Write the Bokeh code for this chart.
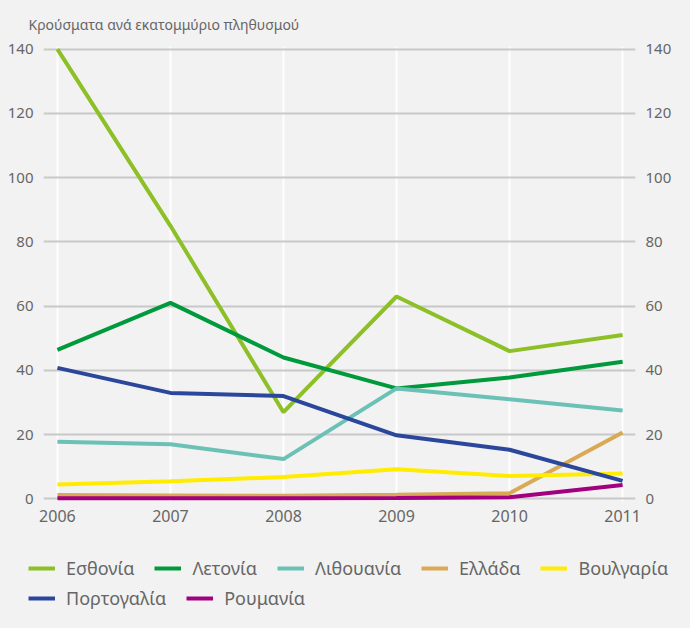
from bokeh.plotting import figure
from bokeh.layouts import column
from bokeh.models import Legend, LegendItem, Range1d, LinearAxis, FixedTicker, GlobalInlineStyleSheet
from bokeh.embed import file_html
from bokeh.resources import INLINE

years = [2006, 2007, 2008, 2009, 2010, 2011]
estonia = [140, 85, 27, 63, 46, 51]
latvia = [46.4, 61, 44, 34.4, 37.8, 42.7]
lithuania = [17.8, 17.0, 12.4, 34.4, 31.0, 27.5]
greece = [1.2, 1.1, 1.0, 1.3, 1.8, 20.7]
bulgaria = [4.5, 5.5, 6.8, 9.2, 7.1, 7.9]
portugal = [40.8, 33.0, 32.0, 19.8, 15.3, 5.6]
romania = [0.2, 0.2, 0.2, 0.3, 0.5, 4.3]

names = ["Εσθονία", "Λετονία", "Λιθουανία", "Ελλάδα", "Βουλγαρία", "Πορτογαλία", "Ρουμανία"]
series = [estonia, latvia, lithuania, greece, bulgaria, portugal, romania]
colors = ["#8cc026", "#009a3d", "#6cc1b6", "#daa955", "#ffec00", "#2b479b", "#a2007e"]
y_ticks = [0, 20, 40, 60, 80, 100, 120, 140]
title_text = "Κρούσματα ανά εκατομμύριο πληθυσμού"

FONT = "Noto Sans"
TXT = "#666666"
BG = "#f2f2f2"

p = figure(width=674, height=540, output_backend="svg", toolbar_location=None,
           x_range=Range1d(2005.877, 2011.114), y_range=Range1d(-0.8, 140.8),
           min_border_left=43, min_border_right=33, min_border_top=43, min_border_bottom=39,
           title=title_text)
p.background_fill_color = BG
p.border_fill_color = BG
p.outline_line_color = None

p.title.text_font = FONT
p.title.text_font_size = "14px"
p.title.text_font_style = "normal"
p.title.text_color = TXT
p.title.align = "left"
p.title.offset = -15
p.title.standoff = 25

p.xaxis.ticker = FixedTicker(ticks=years)
p.yaxis.ticker = FixedTicker(ticks=y_ticks)
right = LinearAxis(ticker=FixedTicker(ticks=y_ticks))
p.add_layout(right, "right")

for ax in p.xaxis + p.yaxis:
    ax.axis_line_color = None
    ax.major_tick_line_color = None
    ax.minor_tick_line_color = None
    ax.major_label_text_font = FONT
    ax.major_label_text_color = TXT
for ax in p.yaxis:
    ax.major_label_text_font_size = "15px"
    ax.major_label_standoff = 4
for ax in p.xaxis:
    ax.major_label_text_font_size = "16px"
    ax.major_label_standoff = 2

p.xgrid.ticker = FixedTicker(ticks=years)
p.xgrid.grid_line_color = "white"
p.xgrid.grid_line_width = 2
p.ygrid.ticker = FixedTicker(ticks=y_ticks)
p.ygrid.grid_line_color = "#c8c8c8"
p.ygrid.grid_line_width = 2

for name, vals, col in zip(names, series, colors):
    p.line(years, vals, line_color=col, line_width=4)

# legend-only figure below the chart (its ranges keep the series out of view)
lf = figure(width=674, height=72, output_backend="svg", toolbar_location=None,
            x_range=Range1d(0, 1), y_range=Range1d(0, 1),
            x_axis_type=None, y_axis_type=None,
            min_border_left=0, min_border_right=0, min_border_top=0, min_border_bottom=0)
lf.frame_align = False
lf.background_fill_color = BG
lf.border_fill_color = BG
lf.outline_line_color = None
lf.xgrid.visible = False
lf.ygrid.visible = False

legend_renderers = [lf.line(years, vals, line_color=col, line_width=4)
                    for vals, col in zip(series, colors)]

def mk_legend(idx, loc):
    lg = Legend(items=[LegendItem(label=names[i], renderers=[legend_renderers[i]]) for i in idx],
                orientation="horizontal", location=loc)
    lg.background_fill_alpha = 0
    lg.border_line_alpha = 0
    lg.padding = 0
    lg.margin = 0
    lg.spacing = 20
    lg.glyph_width = 27
    lg.glyph_height = 22
    lg.label_height = 22
    lg.label_standoff = 11
    lg.label_text_font = FONT
    lg.label_text_font_size = "18px"
    lg.label_text_color = TXT
    return lg

lf.add_layout(mk_legend([0, 1, 2, 3, 4], (28, 32)))
lf.add_layout(mk_legend([5, 6], (28, 2)))

layout = column(p, lf, spacing=0)
layout.stylesheets = [GlobalInlineStyleSheet(css="html, body { background-color: #f2f2f2; }")]
open("out.html", "w").write(file_html(layout, INLINE))
